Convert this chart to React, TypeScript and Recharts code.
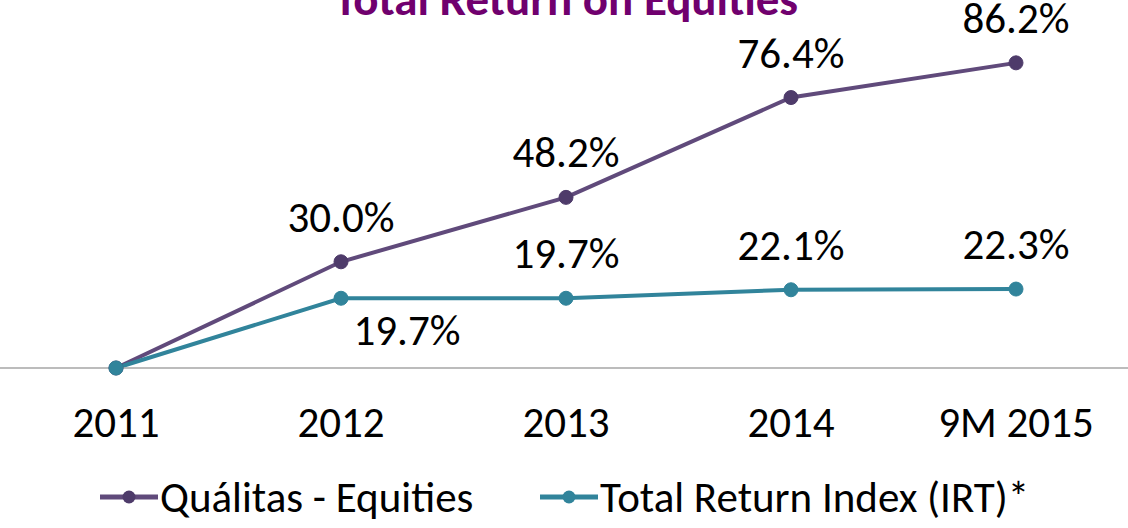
import React from 'react';
import { LineChart, Line, XAxis, YAxis, Legend } from 'recharts';

const categories = ['2011', '2012', '2013', '2014', '9M 2015'];
const qualitasValues = [0, 30.0, 48.2, 76.4, 86.2];
const irtValues = [0, 19.7, 19.7, 22.1, 22.3];
const seriesNames = ['Quálitas - Equities', 'Total Return Index (IRT)*'];
const title = 'Total Return on Equities';

const data = categories.map((c, i) => ({ cat: c, q: qualitasValues[i], irt: irtValues[i] }));

const FONT = 'Carlito, Lato, "Open Sans", sans-serif';
const PURPLE = '#604A7B';
const PURPLE_DOT = '#4E3B6A';
const TEAL = '#31849B';
const FS = 43;

const makeLabel = (series: 'q' | 'irt') => (props: any) => {
  const { x, y, value, index } = props;
  if (index === 0) return null;
  let dx = 0;
  let dy = -30;
  if (series === 'irt' && index === 1) {
    dx = 66;
    dy = 47;
  }
  return (
    <text
      key={`${series}-${index}`}
      x={x + dx}
      y={y + dy}
      textAnchor="middle"
      fontFamily={FONT}
      fontSize={FS}
      fill="#000"
    >
      {`${Number(value).toFixed(1)}%`}
    </text>
  );
};

const LegendContent = () => {
  const items = [
    { name: seriesNames[0], color: PURPLE, dot: PURPLE_DOT, left: 100 },
    { name: seriesNames[1], color: TEAL, dot: TEAL, left: 540 },
  ];
  return (
    <div style={{ position: 'relative', width: 1128, height: 56 }}>
      {items.map((it) => (
        <div
          key={it.name}
          style={{
            position: 'absolute',
            left: it.left,
            top: 0,
            height: 56,
            display: 'flex',
            alignItems: 'center',
            fontFamily: FONT,
            fontSize: FS,
            color: '#000',
            whiteSpace: 'nowrap',
          }}
        >
          <svg width={60} height={20} style={{ marginRight: 0 }}>
            <line x1={0} y1={10} x2={58} y2={10} stroke={it.color} strokeWidth={5} />
            <circle cx={29} cy={10} r={6.5} fill={it.dot} />
          </svg>
          <span>{it.name}</span>
        </div>
      ))}
    </div>
  );
};

export default function App() {
  return (
    <div style={{ position: 'fixed', left: 0, top: 0, width: 1128, height: 528, background: '#fff', overflow: 'hidden' }}>
      <svg width={1128} height={40} style={{ position: 'absolute', left: 0, top: 0 }}>
        <text
          x={566}
          y={15}
          textAnchor="middle"
          fontFamily={FONT}
          fontWeight="bold"
          fontSize={47}
          fill="#70006E"
        >
          {title}
        </text>
      </svg>
      <LineChart
        width={1128}
        height={528}
        data={data}
        margin={{ top: 14, right: 0, bottom: 0, left: 0 }}
        style={{ position: 'absolute', left: 0, top: 0 }}
      >
        <XAxis
          dataKey="cat"
          padding={{ left: 116, right: 112 }}
          tickLine={false}
          tickSize={0}
          tickMargin={38}
          height={104}
          axisLine={{ stroke: '#A6A6A6', strokeWidth: 1.5 }}
          tick={{ fontFamily: FONT, fontSize: FS, fill: '#000' }}
          interval={0}
        />
        <YAxis hide domain={[0, 100]} />
        <Legend
          content={<LegendContent />}
          wrapperStyle={{ position: 'absolute', top: 469, left: 0, width: 1128, height: 56 }}
        />
        <Line
          type="linear"
          dataKey="q"
          name={seriesNames[0]}
          stroke={PURPLE}
          strokeWidth={4}
          dot={{ r: 7, fill: PURPLE_DOT, stroke: PURPLE_DOT, strokeWidth: 1 }}
          label={makeLabel('q')}
          isAnimationActive={false}
        />
        <Line
          type="linear"
          dataKey="irt"
          name={seriesNames[1]}
          stroke={TEAL}
          strokeWidth={4}
          dot={{ r: 7, fill: TEAL, stroke: TEAL, strokeWidth: 1 }}
          label={makeLabel('irt')}
          isAnimationActive={false}
        />
      </LineChart>
    </div>
  );
}
